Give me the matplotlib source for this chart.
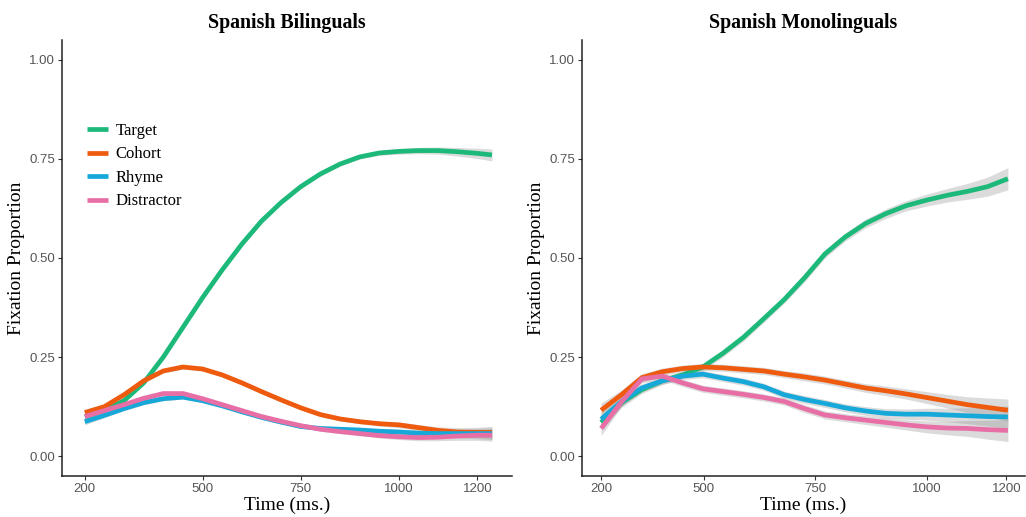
import matplotlib
matplotlib.use("Agg")
import matplotlib.pyplot as plt
import numpy as np

# ---------------- data ----------------
series_names = ["Target", "Cohort", "Rhyme", "Distractor"]
series_colors = ["#1DB97A", "#EE5A0E", "#17A8DA", "#E86EA6"]

time_bil = [200, 250, 300, 350, 400, 450, 500, 550, 600, 650, 700, 750,
            800, 850, 900, 950, 1000, 1050, 1100, 1150, 1200, 1237]
target_bil = [0.100, 0.115, 0.140, 0.185, 0.250, 0.325, 0.400, 0.470, 0.535, 0.593, 0.640, 0.680,
              0.712, 0.737, 0.755, 0.765, 0.769, 0.771, 0.771, 0.768, 0.764, 0.760]
cohort_bil = [0.110, 0.125, 0.155, 0.190, 0.215, 0.225, 0.220, 0.205, 0.185, 0.163, 0.142, 0.122,
              0.105, 0.094, 0.087, 0.082, 0.079, 0.072, 0.065, 0.061, 0.060, 0.060]
rhyme_bil = [0.087, 0.103, 0.120, 0.135, 0.145, 0.149, 0.140, 0.127, 0.112, 0.098, 0.086, 0.075,
             0.070, 0.068, 0.066, 0.063, 0.061, 0.058, 0.057, 0.057, 0.057, 0.057]
distractor_bil = [0.100, 0.115, 0.130, 0.146, 0.158, 0.158, 0.145, 0.130, 0.115, 0.100, 0.088, 0.077,
                  0.068, 0.062, 0.057, 0.052, 0.049, 0.047, 0.048, 0.051, 0.053, 0.053]
band_bil = [0.008, 0.006, 0.005, 0.005, 0.005, 0.005, 0.005, 0.005, 0.005, 0.005, 0.005, 0.005,
            0.005, 0.005, 0.005, 0.006, 0.007, 0.008, 0.009, 0.011, 0.013, 0.015]

time_mono = [200, 250, 300, 350, 400, 450, 500, 550, 600, 650, 700, 750,
             800, 850, 900, 950, 1000, 1050, 1100, 1150, 1200]
target_mono = [0.085, 0.135, 0.168, 0.190, 0.205, 0.225, 0.260, 0.300, 0.347, 0.395, 0.450, 0.510,
               0.553, 0.587, 0.612, 0.632, 0.646, 0.658, 0.668, 0.680, 0.700]
cohort_mono = [0.116, 0.155, 0.198, 0.213, 0.221, 0.225, 0.223, 0.219, 0.215, 0.207, 0.200, 0.192,
               0.182, 0.172, 0.165, 0.157, 0.148, 0.139, 0.130, 0.123, 0.116]
rhyme_mono = [0.093, 0.138, 0.172, 0.190, 0.202, 0.207, 0.197, 0.188, 0.175, 0.155, 0.143, 0.133,
              0.122, 0.114, 0.108, 0.106, 0.106, 0.104, 0.102, 0.100, 0.099]
distractor_mono = [0.070, 0.137, 0.195, 0.202, 0.185, 0.170, 0.163, 0.156, 0.148, 0.138, 0.120, 0.104,
                   0.097, 0.091, 0.085, 0.079, 0.074, 0.071, 0.070, 0.067, 0.065]
band_mono = [0.018, 0.012, 0.010, 0.009, 0.009, 0.009, 0.009, 0.009, 0.009, 0.009, 0.010, 0.010,
             0.010, 0.011, 0.012, 0.013, 0.015, 0.017, 0.020, 0.024, 0.028]

y_ticks = [0.00, 0.25, 0.50, 0.75, 1.00]
y_ticklabels = ["0.00", "0.25", "0.50", "0.75", "1.00"]
x_ticklabels = ["200", "500", "750", "1000", "1200"]

# ---------------- figure ----------------
W, H = 1026, 517
fig = plt.figure(figsize=(W / 100, H / 100), dpi=100)

serif = ["Liberation Serif", "DejaVu Serif"]
sans = ["Liberation Sans", "DejaVu Sans"]
tick_col = "#555555"


def px_axes(x0, x1, ytop, ybot):
    return fig.add_axes([x0 / W, (H - ybot) / H, (x1 - x0) / W, (ybot - ytop) / H])


panels = [
    dict(ax=px_axes(62, 512, 40, 476), title="Spanish Bilinguals", t=time_bil,
         ys=[target_bil, cohort_bil, rhyme_bil, distractor_bil], band=band_bil,
         xlim=(142, 1288), xticks=[200, 500, 750, 1000, 1200], legend=True),
    dict(ax=px_axes(582, 1025, 40, 476), title="Spanish Monolinguals", t=time_mono,
         ys=[target_mono, cohort_mono, rhyme_mono, distractor_mono], band=band_mono,
         xlim=(153, 1242), xticks=[200, 452, 726, 1000, 1196], legend=False),
]

for p in panels:
    ax = p["ax"]
    t = np.array(p["t"])
    b = np.array(p["band"])
    for name, col, y in zip(series_names, series_colors, p["ys"]):
        y = np.array(y)
        ax.fill_between(t, y - b, y + b, color="#999999", alpha=0.35, linewidth=0, zorder=1)
    for name, col, y in zip(series_names, series_colors, p["ys"]):
        ax.plot(t, y, color=col, linewidth=3.4, solid_capstyle="butt",
                solid_joinstyle="round", label=name, zorder=2)
    ax.set_xlim(*p["xlim"])
    ax.set_ylim(-0.05, 1.05)
    ax.set_xticks(p["xticks"])
    ax.set_xticklabels(x_ticklabels, family=sans, fontsize=9.5, color=tick_col)
    ax.set_yticks(y_ticks)
    ax.set_yticklabels(y_ticklabels, family=sans, fontsize=9.5, color=tick_col)
    ax.tick_params(axis="both", length=3, width=0.8, color="#333333", pad=2)
    for s in ["top", "right"]:
        ax.spines[s].set_visible(False)
    for s in ["left", "bottom"]:
        ax.spines[s].set_linewidth(1.1)
        ax.spines[s].set_color("#222222")
    ax.set_title(p["title"], family=serif, fontsize=14.3, fontweight="bold", pad=9)
    ax.set_xlabel("Time (ms.)", family=serif, fontsize=14, labelpad=1)
    ax.set_ylabel("Fixation Proportion", family=serif, fontsize=14, labelpad=3)
    ax.set_facecolor("white")
    if p["legend"]:
        leg = ax.legend(loc="upper left", bbox_to_anchor=(0.04, 0.825), frameon=False,
                        prop={"family": serif, "size": 12}, handlelength=1.3,
                        handletextpad=0.45, labelspacing=0.45, borderaxespad=0)
        for line in leg.get_lines():
            line.set_linewidth(3.4)

fig.savefig("out.png", dpi=100, facecolor="white")
